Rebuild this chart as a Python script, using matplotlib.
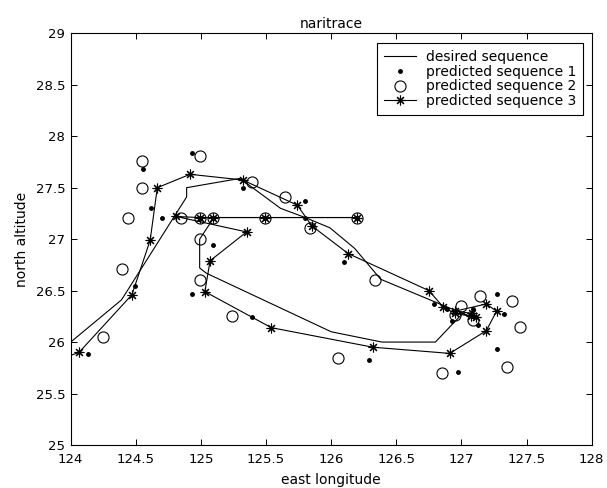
import matplotlib
matplotlib.use('Agg')
import matplotlib.pyplot as plt

plt.rcParams['font.family'] = ['DejaVu Sans']

# desired track
desired_lon = [126.2, 125.5, 125.1, 124.99, 124.99, 125.04, 126.0, 126.39, 126.8,
               127.01, 127.10, 126.38, 126.18, 125.99, 125.80, 125.61, 125.30,
               124.89, 124.89, 124.39, 124.0]
desired_lat = [27.21, 27.21, 27.21, 27.0, 26.72, 26.67, 26.1, 26.0, 26.0,
               26.28, 26.23, 26.61, 26.91, 27.11, 27.21, 27.30, 27.59,
               27.50, 27.41, 26.41, 26.0]

# predicted sequence 1 (dots)
pred1_lon = [126.2, 125.49, 125.095, 124.99, 124.70, 124.62, 124.557, 124.929, 125.325,
             125.095, 124.49, 124.929, 125.39, 124.13, 125.80, 125.80, 126.10,
             126.79, 126.89, 126.93, 127.09, 127.13, 126.29, 126.97, 127.27,
             127.33, 127.27]
pred1_lat = [27.21, 27.21, 27.21, 27.21, 27.21, 27.30, 27.68, 27.84, 27.50,
             26.94, 26.54, 26.47, 26.24, 25.88, 27.37, 27.21, 26.78,
             26.37, 26.32, 26.20, 26.32, 26.17, 25.83, 25.71, 25.93,
             26.27, 26.47]

# predicted sequence 2 (circles)
pred2_lon = [126.2, 125.49, 125.095, 124.99, 124.85, 124.44, 124.545, 124.545, 124.99,
             124.99, 124.99, 124.39, 124.245, 125.24, 125.39, 125.645, 125.84,
             126.34, 127.00, 126.95, 127.09, 127.14, 127.39, 127.45, 127.35,
             126.85, 126.05]
pred2_lat = [27.21, 27.21, 27.21, 27.21, 27.21, 27.21, 27.50, 27.76, 27.81,
             27.00, 26.60, 26.71, 26.05, 26.25, 27.56, 27.41, 27.11,
             26.60, 26.35, 26.26, 26.21, 26.45, 26.40, 26.15, 25.76,
             25.70, 25.85]

# predicted sequence 3 (asterisks joined by line)
pred3_lon = [126.2, 125.49, 125.095, 124.99, 124.81, 125.35, 125.07, 125.03, 125.54,
             126.32, 126.91, 127.19, 127.27, 127.19, 126.95, 127.08, 127.11,
             127.07, 126.95, 126.86, 126.75, 126.13, 125.85, 125.74, 125.32,
             124.916, 124.665, 124.61, 124.47, 124.064, 123.8]
pred3_lat = [27.21, 27.21, 27.21, 27.21, 27.22, 27.07, 26.79, 26.49, 26.14,
             25.95, 25.89, 26.11, 26.30, 26.37, 26.30, 26.28, 26.24,
             26.25, 26.28, 26.34, 26.50, 26.86, 27.13, 27.33, 27.575,
             27.63, 27.50, 26.99, 26.46, 25.90, 25.78]

xticks = [124, 124.5, 125, 125.5, 126, 126.5, 127, 127.5, 128]
yticks = [25, 25.5, 26, 26.5, 27, 27.5, 28, 28.5, 29]

fig = plt.figure(figsize=(6.07, 4.88), dpi=100)
ax = fig.add_axes([0.1165, 0.0881, 0.8583, 0.8437])

asterisk = (8, 2, 0)
ax.plot(desired_lon, desired_lat, '-', color='black', linewidth=0.8,
        label='desired sequence')
ax.plot(pred1_lon, pred1_lat, '.', color='black', markersize=5,
        label='predicted sequence 1')
ax.plot(pred2_lon, pred2_lat, 'o', color='black', markerfacecolor='none',
        markersize=8, markeredgewidth=0.8, label='predicted sequence 2')
ax.plot(pred3_lon, pred3_lat, '-', color='black', linewidth=0.8,
        marker=asterisk, markersize=7, markeredgewidth=0.8,
        label='predicted sequence 3')

ax.set_xlim(124, 128)
ax.set_ylim(25, 29)
ax.set_xticks(xticks)
ax.set_xticklabels([f'{v:g}' for v in xticks])
ax.set_yticks(yticks)
ax.set_yticklabels([f'{v:g}' for v in yticks])
ax.tick_params(direction='in', top=True, right=True, labelsize=9.5, length=4,
               width=0.7)
ax.tick_params(axis='x', pad=5.5)
ax.tick_params(axis='y', pad=4)
for s in ax.spines.values():
    s.set_linewidth(0.8)

ax.set_title('naritrace', fontsize=10, pad=4)
ax.set_xlabel('east longitude', fontsize=10, labelpad=5)
ax.set_ylabel('north altitude', fontsize=10, labelpad=5)

leg = ax.legend(loc='upper right', bbox_to_anchor=(0.983, 0.976), borderaxespad=0,
                fontsize=10, fancybox=False, edgecolor='black', framealpha=1,
                handlelength=2.3, handletextpad=0.7, labelspacing=0.05,
                borderpad=0.5)
leg.get_frame().set_linewidth(0.8)

fig.savefig('out.png', dpi=100, facecolor='white')
